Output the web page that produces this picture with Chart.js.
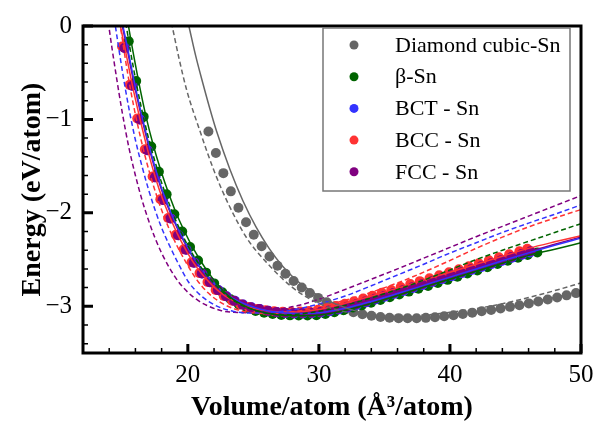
<!DOCTYPE html>
<html>
<head>
<meta charset="utf-8">
<script src="https://cdn.jsdelivr.net/npm/chart.js@4/dist/chart.umd.min.js"></script>
<style>
  html, body { margin: 0; padding: 0; background: #fff; }
  #wrap { width: 612px; height: 425px; position: relative; }
</style>
</head>
<body>
<div id="wrap"><canvas id="eos"></canvas></div>
<script>
// --- data (volume in Å^3/atom, energy in eV/atom) ---
const seriesNames = ['Diamond cubic-Sn', 'β-Sn', 'BCT - Sn', 'BCC - Sn', 'FCC - Sn'];
const seriesColors = ['#666666', '#006400', '#3333ff', '#ff3333', '#800080'];

const xTicks = [20, 30, 40, 50];
const yTicks = [-3, -2, -1, 0];

// Diamond cubic-Sn
const diamondV = [21.57, 22.14, 22.71, 23.28, 23.86, 24.44, 25.03, 25.63, 26.23, 26.84, 27.45, 28.07, 28.69, 29.31, 29.94, 30.60, 31.27, 31.95, 32.63, 33.32, 34.01, 34.70, 35.39, 36.08, 36.77, 37.46, 38.16, 38.86, 39.56, 40.27, 40.98, 41.70, 42.42, 43.14, 43.86, 44.58, 45.30, 46.02, 46.74, 47.46, 48.18, 48.90, 49.62, 50.34];
const diamondE = [-1.13, -1.36, -1.575, -1.77, -1.945, -2.1, -2.235, -2.358, -2.468, -2.566, -2.652, -2.73, -2.798, -2.857, -2.91, -2.958, -3.0, -3.036, -3.064, -3.086, -3.102, -3.114, -3.122, -3.127, -3.129, -3.128, -3.124, -3.117, -3.107, -3.095, -3.082, -3.068, -3.054, -3.039, -3.023, -3.006, -2.988, -2.969, -2.949, -2.928, -2.906, -2.883, -2.859, -2.834];
const diamondFitV = [19.9, 20.08, 20.6, 21.14, 21.67, 22.2, 23.2, 24.2, 25.2, 26.2, 27.2, 28.2, 29.2, 30.2, 32.2, 34.2, 36.2, 38.2, 40.2, 42.2, 44.2, 46.2, 48.2, 50.2];
const diamondFitE = [0.11, 0, -0.32, -0.61, -0.88, -1.13, -1.53, -1.87, -2.15, -2.38, -2.565, -2.71, -2.82, -2.905, -3.025, -3.095, -3.121, -3.124, -3.1, -3.06, -3.015, -2.96, -2.9, -2.834];
const diamondAltV = [18.6, 18.8, 19.3, 19.9, 20.94, 22.0, 23.1, 24.5, 26.0, 28.0, 30.0, 32.0, 34.0, 36.0, 38.0, 40.0, 42.0, 44.0, 46.0, 48.0, 50.0];
const diamondAltE = [0.12, 0, -0.33, -0.68, -1.13, -1.55, -1.907, -2.27, -2.53, -2.8, -2.97, -3.06, -3.1, -3.11, -3.095, -3.065, -3.025, -2.972, -2.906, -2.832, -2.75];

// β-Sn
const betaV = [15.49, 16.06, 16.63, 17.21, 17.79, 18.38, 18.97, 19.57, 20.17, 20.78, 21.39, 22.01, 22.63, 23.26, 23.89, 24.53, 25.17, 25.82, 26.47, 27.13, 27.79, 28.46, 29.13, 29.81, 30.49, 31.18, 31.87, 32.57, 33.27, 33.98, 34.69, 35.41, 36.13, 36.86, 37.59, 38.33, 39.07, 39.82, 40.57, 41.33, 42.09, 42.86, 43.63, 44.41, 45.19, 45.93, 46.67];
const betaE = [-0.163, -0.59, -0.97, -1.29, -1.56, -1.8, -2.015, -2.2, -2.365, -2.51, -2.64, -2.755, -2.85, -2.925, -2.98, -3.02, -3.05, -3.07, -3.083, -3.092, -3.097, -3.099, -3.099, -3.095, -3.082, -3.064, -3.042, -3.016, -2.99, -2.962, -2.933, -2.903, -2.873, -2.843, -2.813, -2.782, -2.75, -2.717, -2.684, -2.65, -2.617, -2.583, -2.548, -2.513, -2.48, -2.45, -2.425];
const betaFitV = [15.2, 15.67, 16.24, 16.81, 17.39, 17.97, 18.56, 19.15, 19.75, 20.35, 20.96, 21.57, 22.2, 22.8, 23.45, 24.1, 24.8, 25.6, 26.5, 27.5, 28.5, 29.5, 30.5, 32.0, 34.0, 36.0, 38.0, 40.0, 42.0, 44.0, 46.0, 48.0, 50.0];
const betaFitE = [0.22, -0.163, -0.59, -0.97, -1.29, -1.56, -1.8, -2.015, -2.2, -2.365, -2.51, -2.64, -2.755, -2.85, -2.925, -2.98, -3.025, -3.06, -3.085, -3.098, -3.102, -3.098, -3.085, -3.045, -2.97, -2.885, -2.795, -2.71, -2.625, -2.54, -2.455, -2.39, -2.321];
const betaAltV = [15.05, 15.3, 15.85, 16.4, 17.0, 17.6, 18.2, 18.9, 19.6, 20.4, 21.2, 22.1, 23.1, 24.2, 25.4, 26.6, 27.8, 29.0, 30.5, 32.0, 34.0, 36.0, 38.0, 40.0, 42.0, 44.0, 46.0, 48.0, 50.0];
const betaAltE = [0.2, 0, -0.45, -0.84, -1.2, -1.5, -1.76, -2.02, -2.24, -2.45, -2.62, -2.77, -2.9, -2.995, -3.055, -3.085, -3.09, -3.075, -3.04, -2.99, -2.91, -2.82, -2.72, -2.61, -2.5, -2.4, -2.305, -2.21, -2.115];

// BCT - Sn
const bctV = [15.2, 15.78, 16.36, 16.94, 17.53, 18.12, 18.71, 19.3, 19.9, 20.5, 21.11, 21.72, 22.34, 22.96, 23.59, 24.22, 24.86, 25.5, 26.15, 26.8, 27.46, 28.12, 28.79, 29.46, 30.14, 30.82, 31.51, 32.2, 32.9, 33.6, 34.31, 35.02, 35.74, 36.46, 37.19, 37.92, 38.66, 39.4, 40.15, 40.9, 41.66, 42.42, 43.19, 43.96, 44.74, 45.52, 46.1];
const bctE = [-0.235, -0.64, -1.0, -1.33, -1.62, -1.862, -2.06, -2.24, -2.395, -2.533, -2.648, -2.743, -2.827, -2.892, -2.942, -2.982, -3.01, -3.03, -3.048, -3.062, -3.071, -3.076, -3.077, -3.074, -3.066, -3.053, -3.035, -3.012, -2.986, -2.958, -2.928, -2.898, -2.867, -2.836, -2.805, -2.773, -2.741, -2.709, -2.677, -2.645, -2.612, -2.58, -2.547, -2.514, -2.481, -2.448, -2.423];
const bctFitV = [14.9, 15.4, 15.98, 16.56, 17.14, 17.73, 18.32, 18.91, 19.5, 20.1, 20.7, 21.31, 21.92, 22.54, 23.16, 23.86, 24.66, 25.56, 26.5, 27.5, 28.5, 29.5, 30.5, 32.0, 34.0, 36.0, 38.0, 40.0, 42.0, 44.0, 46.0, 48.0, 50.0];
const bctFitE = [0.1, -0.235, -0.64, -1.0, -1.33, -1.62, -1.862, -2.06, -2.24, -2.395, -2.533, -2.648, -2.743, -2.827, -2.89, -2.945, -2.992, -3.032, -3.058, -3.073, -3.078, -3.074, -3.06, -3.022, -2.948, -2.864, -2.776, -2.688, -2.6, -2.513, -2.428, -2.347, -2.27];
const bctAltV = [14.2, 14.47, 15.0, 15.5, 16.0, 16.5, 17.0, 17.5, 18.0, 18.6, 19.3, 20.05, 20.8, 21.6, 22.5, 23.5, 24.5, 25.5, 26.5, 27.5, 28.5, 30.0, 32.0, 34.0, 36.0, 38.0, 40.0, 42.0, 44.0, 46.0, 48.0, 50.0];
const bctAltE = [0.25, 0, -0.48, -0.88, -1.22, -1.5, -1.75, -1.97, -2.16, -2.35, -2.55, -2.74, -2.86, -2.95, -3.015, -3.055, -3.072, -3.072, -3.062, -3.05, -3.025, -2.975, -2.89, -2.78, -2.665, -2.55, -2.43, -2.32, -2.21, -2.11, -2.015, -1.915];

// BCC - Sn
const bccV = [14.98, 15.56, 16.14, 16.72, 17.31, 17.90, 18.49, 19.08, 19.68, 20.28, 20.89, 21.50, 22.12, 22.74, 23.37, 24.00, 24.64, 25.28, 25.93, 26.58, 27.24, 27.90, 28.57, 29.24, 29.92, 30.60, 31.29, 31.98, 32.68, 33.38, 34.09, 34.80, 35.52, 36.24, 36.97, 37.70, 38.44, 39.18, 39.93, 40.68, 41.44, 42.20, 42.97, 43.74, 44.52, 45.30, 45.90];
const bccE = [-0.22, -0.63, -0.99, -1.32, -1.61, -1.855, -2.055, -2.235, -2.39, -2.53, -2.645, -2.74, -2.825, -2.89, -2.94, -2.98, -3.008, -3.028, -3.042, -3.052, -3.058, -3.06, -3.057, -3.05, -3.038, -3.02, -2.998, -2.973, -2.946, -2.917, -2.887, -2.856, -2.825, -2.794, -2.762, -2.731, -2.699, -2.668, -2.636, -2.604, -2.572, -2.54, -2.508, -2.476, -2.443, -2.41, -2.385];
const bccFitV = [14.7, 15.18, 15.76, 16.34, 16.92, 17.5, 18.08, 18.66, 19.24, 19.83, 20.42, 21.02, 21.62, 22.24, 22.86, 23.5, 24.2, 25.0, 26.0, 27.0, 28.0, 29.0, 30.0, 32.0, 34.0, 36.0, 38.0, 40.0, 42.0, 44.0, 46.0, 48.0, 50.0];
const bccFitE = [0.1, -0.22, -0.63, -0.99, -1.32, -1.61, -1.855, -2.055, -2.235, -2.39, -2.53, -2.645, -2.74, -2.825, -2.89, -2.943, -2.988, -3.022, -3.047, -3.06, -3.062, -3.053, -3.035, -2.968, -2.89, -2.806, -2.72, -2.635, -2.55, -2.465, -2.38, -2.31, -2.245];
const bccAltV = [14.6, 14.85, 15.4, 15.9, 16.4, 16.9, 17.4, 18.0, 18.6, 19.2, 19.9, 20.7, 21.5, 22.4, 23.4, 24.4, 25.4, 26.4, 27.4, 28.5, 30.0, 32.0, 34.0, 36.0, 38.0, 40.0, 42.0, 44.0, 46.0, 48.0, 50.0];
const bccAltE = [0.22, 0, -0.5, -0.88, -1.2, -1.48, -1.72, -1.97, -2.18, -2.36, -2.54, -2.72, -2.85, -2.95, -3.02, -3.058, -3.075, -3.078, -3.07, -3.05, -3.01, -2.935, -2.85, -2.75, -2.635, -2.51, -2.38, -2.26, -2.15, -2.055, -1.965];

// FCC - Sn
const fccV = [15.15, 15.73, 16.31, 16.89, 17.48, 18.07, 18.66, 19.25, 19.85, 20.45, 21.06, 21.67, 22.29, 22.91, 23.54, 24.17, 24.81, 25.45, 26.10, 26.75, 27.41, 28.07, 28.74, 29.41, 30.09, 30.77, 31.46, 32.15, 32.85, 33.55, 34.26, 34.97, 35.69, 36.41, 37.14, 37.87, 38.61, 39.35, 40.10, 40.85, 41.61, 42.37, 43.14, 43.91, 44.69, 45.47, 46.16];
const fccE = [-0.235, -0.64, -1.0, -1.33, -1.62, -1.862, -2.06, -2.24, -2.395, -2.533, -2.648, -2.743, -2.827, -2.892, -2.942, -2.982, -3.01, -3.03, -3.048, -3.06, -3.068, -3.072, -3.072, -3.068, -3.06, -3.046, -3.027, -3.004, -2.978, -2.95, -2.92, -2.89, -2.859, -2.828, -2.797, -2.765, -2.733, -2.701, -2.669, -2.637, -2.604, -2.572, -2.539, -2.506, -2.473, -2.44, -2.41];
const fccFitV = [14.85, 15.35, 15.93, 16.51, 17.09, 17.68, 18.27, 18.86, 19.45, 20.05, 20.65, 21.26, 21.87, 22.49, 23.1, 23.8, 24.6, 25.5, 26.5, 27.5, 28.5, 29.5, 30.5, 32.0, 34.0, 36.0, 38.0, 40.0, 42.0, 44.0, 46.0, 48.0, 50.0];
const fccFitE = [0.1, -0.235, -0.64, -1.0, -1.33, -1.62, -1.862, -2.06, -2.24, -2.395, -2.533, -2.648, -2.743, -2.827, -2.89, -2.943, -2.99, -3.028, -3.054, -3.068, -3.072, -3.067, -3.052, -3.012, -2.936, -2.852, -2.762, -2.674, -2.588, -2.502, -2.416, -2.336, -2.258];
const fccAltV = [13.7, 13.97, 14.5, 15.0, 15.5, 16.0, 16.5, 17.0, 17.5, 18.0, 18.6, 19.3, 20.0, 20.8, 21.6, 22.5, 23.5, 24.5, 25.5, 26.5, 27.5, 28.5, 30.0, 32.0, 34.0, 36.0, 38.0, 40.0, 42.0, 44.0, 46.0, 48.0, 50.0];
const fccAltE = [0.3, 0, -0.5, -0.93, -1.3, -1.6, -1.86, -2.08, -2.27, -2.43, -2.59, -2.74, -2.85, -2.94, -3.0, -3.045, -3.065, -3.068, -3.06, -3.042, -3.018, -2.99, -2.925, -2.82, -2.71, -2.6, -2.485, -2.37, -2.255, -2.145, -2.035, -1.925, -1.815];

const serif = '"Liberation Serif", "Times New Roman", serif';

function toPoints(xs, ys) {
    return xs.map((x, i) => ({ x: x, y: ys[i] }));
}

function dotSet(idx, xs, ys, order) {
    return {
        label: seriesNames[idx],
        data: toPoints(xs, ys),
        showLine: false,
        pointRadius: 5,
        pointHoverRadius: 5,
        pointBorderWidth: 0,
        backgroundColor: seriesColors[idx],
        borderColor: seriesColors[idx],
        order: order
    };
}

function lineSet(idx, xs, ys, dashed) {
    return {
        label: seriesNames[idx] + (dashed ? ' (dashed fit)' : ' (fit)'),
        data: toPoints(xs, ys),
        showLine: true,
        pointRadius: 0,
        borderWidth: 1.5,
        borderDash: dashed ? [5, 3] : [],
        borderColor: seriesColors[idx],
        backgroundColor: seriesColors[idx],
        cubicInterpolationMode: 'monotone',
        fill: false,
        order: 0
    };
}

const datasets = [
    lineSet(0, diamondFitV, diamondFitE, false),
    lineSet(0, diamondAltV, diamondAltE, true),
    lineSet(1, betaFitV, betaFitE, false),
    lineSet(1, betaAltV, betaAltE, true),
    lineSet(2, bctFitV, bctFitE, false),
    lineSet(2, bctAltV, bctAltE, true),
    lineSet(3, bccFitV, bccFitE, false),
    lineSet(3, bccAltV, bccAltE, true),
    lineSet(4, fccFitV, fccFitE, false),
    lineSet(4, fccAltV, fccAltE, true),
    dotSet(0, diamondV, diamondE, 5),
    dotSet(1, betaV, betaE, 4),
    dotSet(2, bctV, bctE, 3),
    dotSet(3, bccV, bccE, 2),
    dotSet(4, fccV, fccE, 1)
];

// frame, inward ticks and the boxed legend
const framePlugin = {
    id: 'frame',
    afterDatasetsDraw(chart) {
        const { ctx, chartArea: a, scales: { x, y } } = chart;
        ctx.save();
        ctx.strokeStyle = '#000';
        // minor ticks
        ctx.lineWidth = 1.5;
        ctx.beginPath();
        for (let v = 14; v < 50; v += 2) {
            if (v % 10 === 0) continue;
            const px = x.getPixelForValue(v);
            ctx.moveTo(px, a.bottom);
            ctx.lineTo(px, a.bottom - 5);
        }
        for (let k = -17; k < 0; k++) {
            if (k % 5 === 0) continue;
            const py = y.getPixelForValue(k / 5);
            ctx.moveTo(a.left, py);
            ctx.lineTo(a.left + 5, py);
        }
        ctx.stroke();
        // major ticks
        ctx.lineWidth = 3;
        ctx.beginPath();
        xTicks.forEach(v => {
            const px = x.getPixelForValue(v);
            ctx.moveTo(px, a.bottom);
            ctx.lineTo(px, a.bottom - 9);
        });
        yTicks.forEach(v => {
            const py = y.getPixelForValue(v);
            ctx.moveTo(a.left, py);
            ctx.lineTo(a.left + 10, py);
        });
        ctx.stroke();
        // border
        ctx.lineWidth = 3;
        ctx.strokeRect(a.left, a.top, a.right - a.left, a.bottom - a.top);

        // legend
        const bx = 323, by = 28, bw = 247, bh = 163;
        ctx.fillStyle = '#fff';
        ctx.fillRect(bx, by, bw, bh);
        ctx.lineWidth = 1.5;
        ctx.strokeStyle = '#777';
        ctx.strokeRect(bx, by, bw, bh);
        ctx.font = '22px ' + serif;
        ctx.textBaseline = 'middle';
        ctx.textAlign = 'left';
        seriesNames.forEach((name, i) => {
            const cy = 45 + i * 31.7;
            ctx.fillStyle = seriesColors[i];
            ctx.beginPath();
            ctx.arc(354, cy, 4.5, 0, Math.PI * 2);
            ctx.fill();
            ctx.fillStyle = '#000';
            ctx.fillText(name, 395, cy + 1);
        });
        ctx.restore();
    }
};

new Chart(document.getElementById('eos'), {
    type: 'scatter',
    data: { datasets: datasets },
    options: {
        responsive: true,
        maintainAspectRatio: false,
        animation: false,
        events: [],
        layout: { padding: { left: 0, top: 16, right: 31, bottom: 0 } },
        plugins: {
            legend: { display: false },
            tooltip: { enabled: false }
        },
        scales: {
            x: {
                type: 'linear',
                min: 12,
                max: 50,
                afterBuildTicks: s => { s.ticks = xTicks.map(v => ({ value: v })); },
                afterFit: s => { s.height = 72; },
                grid: { display: false, drawTicks: false },
                border: { display: false },
                ticks: { color: '#000', font: { family: serif, size: 25 }, padding: 7, maxRotation: 0 },
                title: {
                    display: true,
                    text: 'Volume/atom (Å³/atom)',
                    color: '#000',
                    font: { family: serif, size: 28, weight: 'bold' },
                    padding: { top: 0, bottom: 0 }
                }
            },
            y: {
                type: 'linear',
                min: -3.5,
                max: 0,
                afterBuildTicks: s => { s.ticks = yTicks.map(v => ({ value: v })); },
                afterFit: s => { s.width = 83; },
                grid: { display: false, drawTicks: false },
                border: { display: false },
                ticks: {
                    color: '#000',
                    font: { family: serif, size: 25 },
                    padding: 11,
                    callback: v => v < 0 ? '\u2212' + Math.abs(v) : String(v)
                },
                title: {
                    display: true,
                    text: 'Energy (eV/atom)',
                    color: '#000',
                    font: { family: serif, size: 28, weight: 'bold' },
                    padding: { top: 16, bottom: 0 }
                }
            }
        }
    },
    plugins: [framePlugin]
});
</script>
</body>
</html>
